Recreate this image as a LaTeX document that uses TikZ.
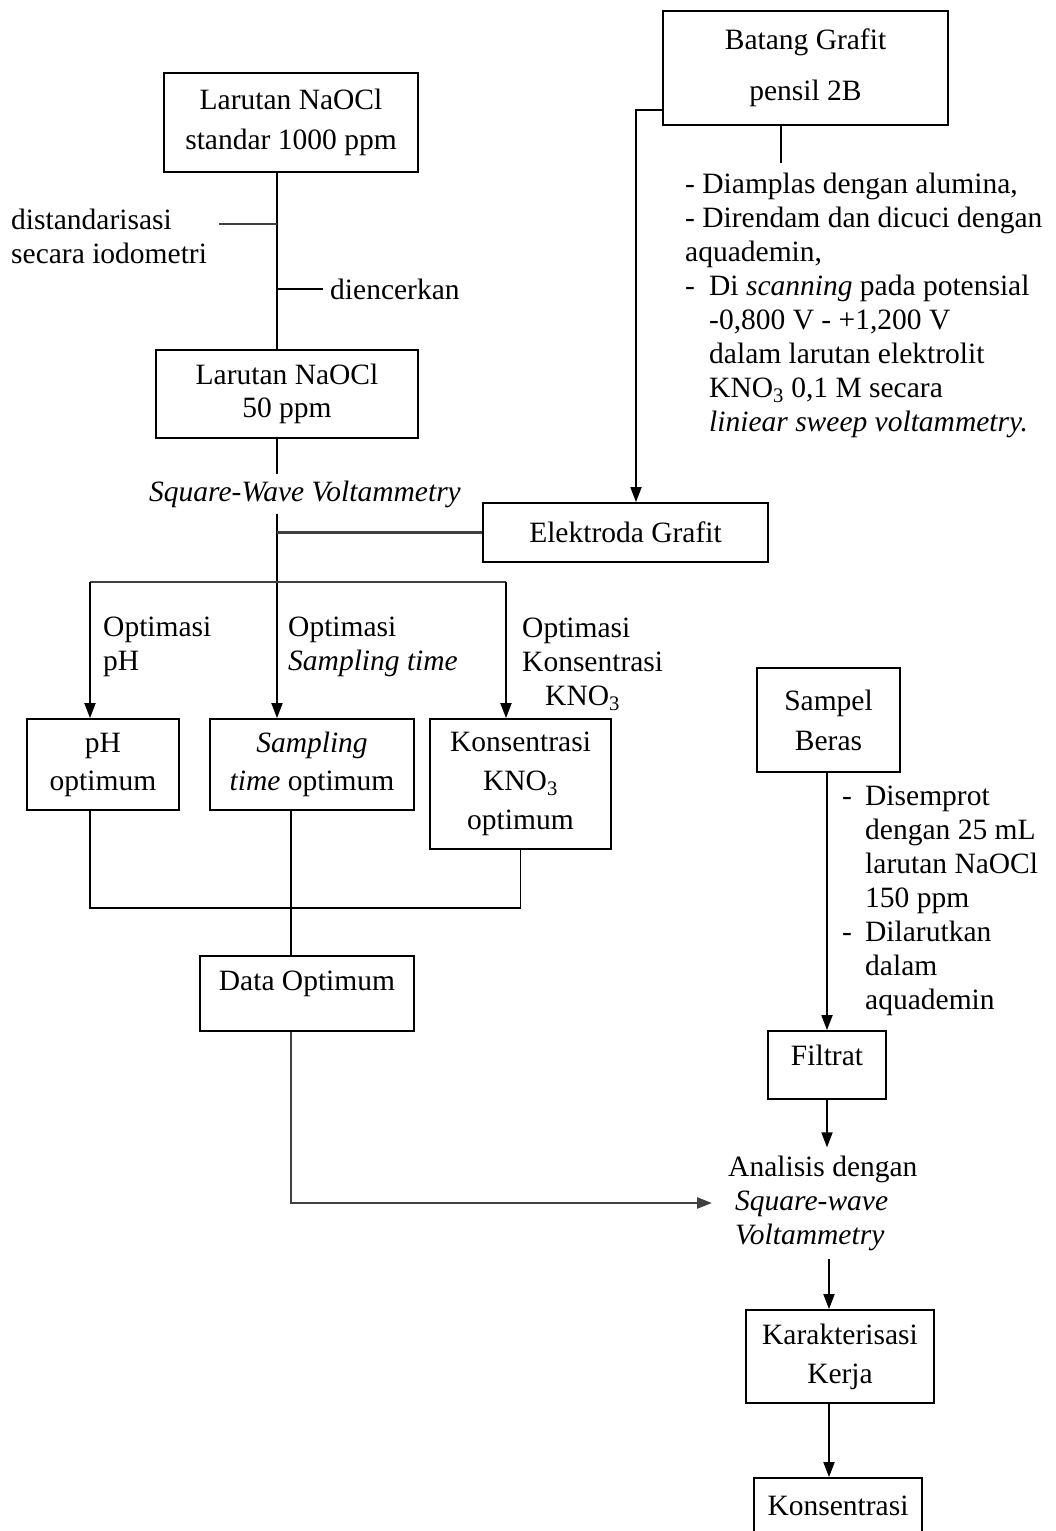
\documentclass[tikz,border=0pt]{standalone}
\usepackage{fontspec}
\setmainfont{Liberation Serif}
\usetikzlibrary{arrows.meta}
\definecolor{ink}{HTML}{000000}
\definecolor{wire}{HTML}{404040}
\newcommand{\dashitem}{\makebox[23pt][l]{-}}
\newcommand{\dashgap}{\makebox[23pt][l]{}}
\tikzset{
  box/.style={draw=ink, line width=1.8pt, align=center, inner sep=0pt, font=\fontsize{29.5}{40}\selectfont},
  lab/.style={text=ink, align=left, inner sep=0pt, font=\fontsize{29.5}{34}\selectfont},
  conn/.style={draw=ink, line width=1.8pt},
  conng/.style={draw=wire, line width=2.4pt},
  arr/.style={conn, -{Triangle[length=15pt,width=11pt]}},
  arrg/.style={conng, -{Triangle[length=15pt,width=11pt]}},
}

\begin{document}
\begin{tikzpicture}[x=1pt,y=-1pt]
  \useasboundingbox (0,0) rectangle (1056,1531);
  \fill[white] (0,0) rectangle (1056,1531);

  % wire columns and junctions
  \coordinate (colL) at (277,0);
  \coordinate (colR) at (829,0);
  \coordinate (brL) at (90,582);
  \coordinate (brR) at (506,582);
  \coordinate (jn) at (291,908);
  \coordinate (tick) at (219,224);
  \coordinate (rodend) at (781,163);

  % boxes
  \node[box, minimum width=254pt, minimum height=99pt] (stock) at (291,122.5) {Larutan NaOCl\\standar 1000 ppm};
  \node[box, minimum width=262pt, minimum height=88pt, font=\fontsize{29.5}{33}\selectfont] (dilute) at (287,394) {Larutan NaOCl\\50 ppm};
  \node[box, minimum width=285pt, minimum height=114pt, font=\fontsize{29.5}{51}\selectfont] (rod) at (805.5,68) {Batang Grafit\\pensil 2B};
  \node[box, minimum width=285pt, minimum height=59pt] (elek) at (625.5,532.5) {Elektroda Grafit};
  \node[box, minimum width=152pt, minimum height=91pt, font=\fontsize{29.5}{38}\selectfont] (ph) at (103,764.5) {pH\\optimum};
  \node[box, minimum width=204pt, minimum height=91pt, font=\fontsize{29.5}{38}\selectfont] (samp) at (312,764.5) {\textit{Sampling}\\\textit{time} optimum};
  \node[box, minimum width=181pt, minimum height=130pt, font=\fontsize{29.5}{39}\selectfont] (kons) at (520.5,784) {Konsentrasi\\KNO\textsubscript{3}\\optimum};
  \node[box, minimum width=214pt, minimum height=75pt, text depth=26pt] (data) at (307,993.5) {Data Optimum};
  \node[box, minimum width=143pt, minimum height=104pt] (sampel) at (828.5,720) {Sampel\\Beras};
  \node[box, minimum width=118pt, minimum height=68pt, text depth=20pt] (filtrat) at (827,1065) {Filtrat};
  \node[box, minimum width=188pt, minimum height=93pt, font=\fontsize{29.5}{39}\selectfont] (kar) at (840,1356.5) {Karakterisasi\\Kerja};
  \node[box, minimum width=168pt, minimum height=56pt] (hasil) at (838,1506) {Konsentrasi};

  % free texts
  \node[lab, anchor=west] (iodo) at (11,236) {distandarisasi\\secara iodometri};
  \node[lab, anchor=west, inner xsep=7pt] (encer) at (323,289) {diencerkan};
  \node[lab, inner ysep=6pt, font=\fontsize{29.5}{34}\selectfont\itshape] (swv) at (305,494) {Square-Wave Voltammetry};
  \node[lab, anchor=west] (prep) at (685,305) {- Diamplas dengan alumina,\\- Direndam dan dicuci dengan\\aquademin,\\\makebox[24pt][l]{-}Di \textit{scanning} pada potensial\\\hspace*{24pt}-0,800 V - +1,200 V\\\hspace*{24pt}dalam larutan elektrolit\\\hspace*{24pt}KNO\textsubscript{3} 0,1 M secara\\\hspace*{24pt}\textit{liniear sweep voltammetry.}};
  \node[lab, anchor=west] (optph) at (103,647) {Optimasi\\pH};
  \node[lab, anchor=west] (optst) at (288,647) {Optimasi\\\textit{Sampling time}};
  \node[lab, anchor=west] (optkn) at (522,664) {Optimasi\\Konsentrasi\\\hspace*{23pt}KNO\textsubscript{3}};
  \node[lab, anchor=west] (treat) at (842,901) {\dashitem Disemprot\\\dashgap dengan 25 mL\\\dashgap larutan NaOCl\\\dashgap 150 ppm\\\dashitem Dilarutkan\\\dashgap dalam\\\dashgap aquademin};
  \node[lab, anchor=west, inner xsep=16pt, inner ysep=8pt] (analisis) at (712,1203) {Analisis dengan\\\hspace*{7pt}\textit{Square-wave}\\\hspace*{7pt}\textit{Voltammetry}};

  % left column
  \draw[conn] (stock.south -| colL) -- (dilute.north -| colL);
  \draw[conng] (tick) -- (tick -| colL);
  \draw[conn] (encer.west -| colL) -- (encer.west);
  \draw[conn] (dilute.south -| colL) -- (swv.north -| colL);
  \draw[arr] (swv.south -| colL) -- (samp.north -| colL);
  \draw[conng] (elek.west) -- (elek.west -| colL);

  % electrode preparation
  \draw[conn] (rodend |- rod.south) -- (rodend);
  \draw[arr] ([yshift=-42pt]rod.west) -| ([xshift=10.5pt]elek.north);

  % optimisation branches
  \draw[conng] (brL) -- (brR);
  \draw[arr] (brL) -- (brL |- ph.north);
  \draw[arr] (brR) -- (brR |- kons.north);
  \draw[conn] (brL |- ph.south) -- (brL |- jn) -- (kons.south |- jn) -- (kons.south);
  \draw[conn] (jn |- samp.south) -- (jn |- data.north);
  \draw[arrg] (jn |- data.south) |- (analisis.west);

  % sample column
  \draw[arr] (sampel.south -| filtrat.north) -- (filtrat.north);
  \draw[arr] (filtrat.south) -- (filtrat.south |- analisis.north);
  \draw[arr] (analisis.south -| colR) -- (kar.north -| colR);
  \draw[arr] (kar.south -| colR) -- (hasil.north -| colR);
\end{tikzpicture}
\end{document}
